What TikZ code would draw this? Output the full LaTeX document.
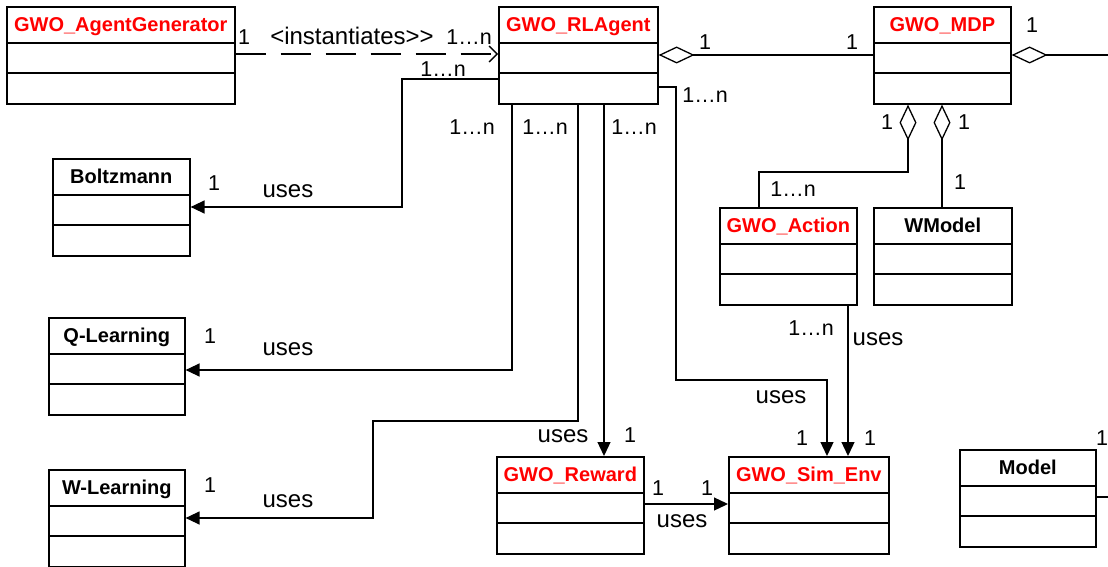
\documentclass[tikz,border=0pt]{standalone}
\usepackage{fontspec}
\setmainfont{Liberation Sans}
\usetikzlibrary{arrows.meta,positioning}
\definecolor{clsred}{RGB}{255,0,0}

\begin{document}
\begin{tikzpicture}[x=1pt,y=-1pt,
    cls/.style={draw,line width=1.6pt,inner sep=0pt,anchor=north west,
      minimum height=97pt,text height=25pt,text depth=72pt,
      font=\fontsize{20}{24}\selectfont\bfseries,
      path picture={
        \draw[black,line width=1.6pt] ([yshift=-36pt]path picture bounding box.north west) -- ([yshift=-36pt]path picture bounding box.north east);
        \draw[black,line width=1.6pt] ([yshift=-66pt]path picture bounding box.north west) -- ([yshift=-66pt]path picture bounding box.north east);}},
    mult/.style={anchor=base,inner sep=0pt,font=\fontsize{21.5}{25}\selectfont},
    usl/.style={anchor=base,inner sep=0pt,font=\fontsize{24}{28}\selectfont},
    uses/.style={line width=1.3pt,-{Triangle[length=14pt,width=13pt]}},
    agg/.style={line width=1.3pt,{Diamond[open,length=36pt,width=17pt]}-},
    inst/.style={line width=1.3pt,dash pattern=on 30pt off 15pt,-{Straight Barb[length=8pt,width=16pt]}}]
    \useasboundingbox (0,0) rectangle (1108,567);
    \clip (0,0) rectangle (1108,567);
    % classes
    \node[cls,text=clsred,minimum width=228pt] (gen) at (6,6) {GWO\_AgentGenerator};
    \node[cls,text=clsred,minimum width=159pt] (rl) at (498,6) {GWO\_RLAgent};
    \node[cls,text=clsred,minimum width=137pt] (mdp) at (873,6) {GWO\_MDP};
    \node[cls,minimum width=137pt] (boltz) at (52,158) {Boltzmann};
    \node[cls,minimum width=136pt] (ql) at (48,317) {Q-Learning};
    \node[cls,minimum width=136pt] (wl) at (48,469) {W-Learning};
    \node[cls,text=clsred,minimum width=137pt] (act) at (719,207) {GWO\_Action};
    \node[cls,minimum width=138pt] (wm) at (873,207) {WModel};
    \node[cls,text=clsred,minimum width=147pt] (rew) at (496,456) {GWO\_Reward};
    \node[cls,text=clsred,minimum width=160pt] (env) at (728,456) {GWO\_Sim\_Env};
    \node[cls,minimum width=136pt] (model) at (959,449) {Model};
    \coordinate (mdpout) at (1108,55);
    \coordinate (modelout) at (1108,497);
    % connectors
    \draw[inst] (gen.east |- 0,54) -- (rl.west |- 0,54);
    \draw[agg] (rl.east |- 0,55) -- (mdp.west |- 0,55);
    \draw[agg] (mdp.east |- 0,55) -- (mdpout);
    \draw[agg] (908,0 |- mdp.south) |- (759,172) -- (759,0 |- act.north);
    \draw[agg] (942,0 |- mdp.south) -- (942,0 |- wm.north);
    \draw[uses] (rl.west |- 0,79) -| (402,207) -- (boltz.east |- 0,207);
    \draw[uses] (512,0 |- rl.south) |- (ql.east |- 0,370);
    \draw[uses] (578,0 |- rl.south) -- (578,421) -| (373,518) -- (wl.east |- 0,518);
    \draw[uses] (604,0 |- rl.south) -- (604,0 |- rew.north);
    \draw[uses] (rl.east |- 0,87) -| (676,380) -| (827,0 |- env.north);
    \draw[uses] (848,0 |- act.south) -- (848,0 |- env.north);
    \draw[uses] (rew.east |- 0,504) -- (env.west |- 0,504);
    \draw[line width=1.3pt] (model.east |- 0,497) -- (modelout);
    % labels
    \node[mult] (m-gen) at (244,45) {1};
    \node[usl] (l-inst) at (352,45) {<instantiates>{}>};
    \node[mult] (m-rl1) at (469,45) {1…n};
    \node[mult] (m-rl2) at (443,77) {1…n};
    \node[mult] (m-agg1) at (705,50) {1};
    \node[mult] (m-agg2) at (852,50) {1};
    \node[mult] (m-mdp) at (1032,33) {1};
    \node[mult] (m-rl3) at (705,103) {1…n};
    \node[mult] (m-rl4) at (472,135) {1…n};
    \node[mult] (m-rl5) at (545,135) {1…n};
    \node[mult] (m-rl6) at (634,135) {1…n};
    \node[mult] (m-boltz) at (214,190) {1};
    \node[usl] (u-boltz) at (288,197) {uses};
    \node[mult] (m-ql) at (210,343) {1};
    \node[usl] (u-ql) at (288,355) {uses};
    \node[mult] (m-wl) at (210,492) {1};
    \node[usl] (u-wl) at (288,507) {uses};
    \node[usl] (u-rew) at (563,442) {uses};
    \node[mult] (m-rew) at (630,442) {1};
    \node[mult] (m-rew2) at (658,495) {1};
    \node[mult] (m-env1) at (707,495) {1};
    \node[usl] (u-env1) at (682,527) {uses};
    \node[mult] (m-env2) at (802,445) {1};
    \node[mult] (m-env3) at (870,445) {1};
    \node[usl] (u-env2) at (781,403) {uses};
    \node[mult] (m-act2) at (811,335) {1…n};
    \node[usl] (u-env3) at (878,345) {uses};
    \node[mult] (m-act) at (793,196) {1…n};
    \node[mult] (m-mdp2) at (887,130) {1};
    \node[mult] (m-mdp3) at (964,130) {1};
    \node[mult] (m-wm) at (960,189) {1};
    \node[mult] (m-model) at (1102,445) {1};
\end{tikzpicture}
\end{document}
